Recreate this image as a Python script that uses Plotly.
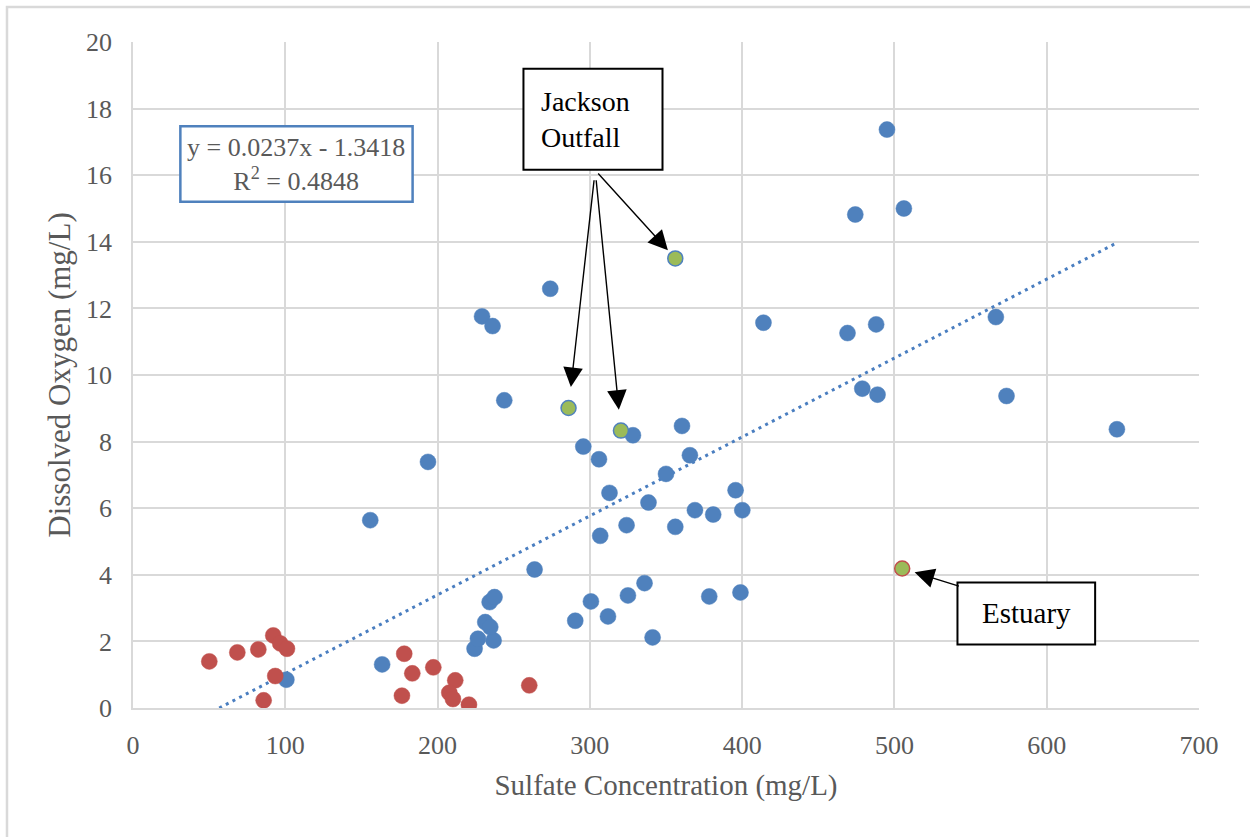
import plotly.graph_objects as go

# Sulfate (mg/L) vs dissolved oxygen (mg/L)
blue_sulfate = [100.7, 163.6, 155.8, 193.7, 224.3, 226.5, 236.8, 231.3, 234.6, 234.2,
                237.4, 263.7, 229.2, 236.1, 274.0, 243.8, 295.7, 306.0, 328.3, 360.5,
                365.7, 350.0, 312.9, 338.5, 395.7, 369.0, 381.0, 400.1, 324.1, 356.1,
                306.8, 335.9, 325.0, 300.7, 378.4, 398.9, 290.4, 311.9, 341.2, 414.0,
                495.1, 474.3, 506.2, 469.2, 488.0, 566.6, 478.9, 488.9, 573.6, 646.1]
blue_do = [0.85, 1.31, 5.64, 7.39, 1.78, 2.08, 2.03, 2.58, 2.43, 3.18,
           3.33, 4.16, 11.76, 11.47, 12.59, 9.24, 7.85, 7.47, 8.19, 8.47,
           7.59, 7.03, 6.46, 6.17, 6.54, 5.94, 5.81, 5.94, 5.49, 5.44,
           5.17, 3.75, 3.38, 3.20, 3.35, 3.47, 2.62, 2.75, 2.12, 11.57,
           17.37, 14.82, 15.00, 11.26, 11.52, 11.74, 9.59, 9.41, 9.37, 8.37]

red_sulfate = [50.1, 68.5, 82.3, 92.1, 96.7, 101.1, 93.4, 85.8, 178.1, 183.4,
               176.6, 197.2, 211.6, 207.7, 210.1, 220.6, 260.2]
red_do = [1.40, 1.67, 1.76, 2.18, 1.94, 1.78, 0.96, 0.23, 1.63, 1.04,
          0.37, 1.22, 0.83, 0.46, 0.27, 0.10, 0.68]

jackson_sulfate = [286.0, 320.4, 356.1]
jackson_do = [9.01, 8.33, 13.50]

estuary_sulfate = [505.1]
estuary_do = [4.19]

# Linear trendline
slope = 0.0237
intercept = -1.3418
r_squared = 0.4848

x_ticks = [0, 100, 200, 300, 400, 500, 600, 700]
y_ticks = [0, 2, 4, 6, 8, 10, 12, 14, 16, 18, 20]

BLUE = "#4F81BD"
RED = "#C0504D"
GREEN = "#9BBB59"
GRAY_TEXT = "#595959"
GRID = "#D9D9D9"
SERIF = "Liberation Serif"

all_x = blue_sulfate + red_sulfate + jackson_sulfate + estuary_sulfate
trend_x0 = max(min(all_x), -intercept / slope)
trend_x1 = max(all_x)
trend_x = [trend_x0, trend_x1]
trend_y = [slope * v + intercept for v in trend_x]

fig = go.Figure()

fig.add_trace(go.Scatter(
    x=trend_x, y=trend_y, mode="lines",
    line=dict(color="#4A7EC0", width=3, dash="3px,4.5px"),
    hoverinfo="skip", showlegend=False))

fig.add_trace(go.Scatter(
    x=blue_sulfate, y=blue_do, mode="markers",
    marker=dict(color=BLUE, size=16, line=dict(color=BLUE, width=0.5)),
    showlegend=False))

fig.add_trace(go.Scatter(
    x=red_sulfate, y=red_do, mode="markers",
    marker=dict(color=RED, size=16, line=dict(color=RED, width=0.5)),
    showlegend=False))

fig.add_trace(go.Scatter(
    x=jackson_sulfate, y=jackson_do, mode="markers",
    marker=dict(color=GREEN, size=15, line=dict(color=BLUE, width=1.5)),
    showlegend=False))

fig.add_trace(go.Scatter(
    x=estuary_sulfate, y=estuary_do, mode="markers",
    marker=dict(color=GREEN, size=15, line=dict(color=RED, width=1.5)),
    showlegend=False))

shapes = [
    # outer chart frame (top and left edges visible)
    dict(type="rect", xref="paper", yref="paper",
         x0=-0.1182, x1=1.1, y0=-0.3, y1=1.0526,
         line=dict(color=GRID, width=2.5), fillcolor="rgba(0,0,0,0)", layer="below"),
    # equation box
    dict(type="rect", xref="x", yref="y", x0=31.1, x1=183.6, y0=15.2, y1=17.47,
         line=dict(color=BLUE, width=2.5), fillcolor="white"),
    # Jackson Outfall box
    dict(type="rect", xref="x", yref="y", x0=256.4, x1=347.7, y0=16.16, y1=19.2,
         line=dict(color="black", width=2), fillcolor="white"),
    # Estuary box
    dict(type="rect", xref="x", yref="y", x0=541.4, x1=631.8, y0=1.91, y1=3.77,
         line=dict(color="black", width=2), fillcolor="white"),
]

annotations = [
    dict(x=107.3, y=16.33, xref="x", yref="y", showarrow=False,
         text=f"y = {slope}x - {abs(intercept)}<br>R<sup>2</sup> = {r_squared}",
         font=dict(family=SERIF, size=26, color=GRAY_TEXT), align="center"),
    dict(x=266.7, y=17.68, xref="x", yref="y", showarrow=False, xanchor="left",
         text="Jackson<br>Outfall", align="left",
         font=dict(family=SERIF, size=28, color="black")),
    dict(x=586.6, y=2.84, xref="x", yref="y", showarrow=False,
         text="Estuary", font=dict(family=SERIF, size=29, color="black")),
]

# arrows from the Jackson Outfall box to its three sampling points
for xs, ys, so in zip(jackson_sulfate, jackson_do, [21, 21, 11]):
    annotations.append(dict(
        x=xs, y=ys, xref="x", yref="y", ax=303.5, ay=16.15, axref="x", ayref="y",
        showarrow=True, arrowhead=2, arrowsize=2.8, arrowwidth=1.4,
        arrowcolor="black", standoff=so, text=" "))

annotations.append(dict(
    x=estuary_sulfate[0], y=estuary_do[0], xref="x", yref="y",
    ax=544.3, ay=3.63, axref="x", ayref="y",
    showarrow=True, arrowhead=2, arrowsize=2.8, arrowwidth=1.4,
    arrowcolor="black", standoff=13, text=" "))

fig.update_layout(
    width=1250, height=837,
    margin=dict(l=133, r=51, t=42, b=129),
    paper_bgcolor="white", plot_bgcolor="white",
    shapes=shapes, annotations=annotations,
    showlegend=False,
    xaxis=dict(
        range=[0, 700], tickvals=x_ticks, ticktext=[str(v) for v in x_ticks],
        showgrid=True, gridcolor=GRID, gridwidth=1.5,
        zeroline=False, showline=True, linecolor=GRID, linewidth=1.5, mirror=False,
        ticks="", ticklabelstandoff=13,
        tickfont=dict(family=SERIF, size=26, color=GRAY_TEXT),
        title=dict(text="Sulfate Concentration (mg/L)", standoff=16,
                   font=dict(family=SERIF, size=29, color=GRAY_TEXT)),
    ),
    yaxis=dict(
        range=[0, 20], tickvals=y_ticks, ticktext=[str(v) for v in y_ticks],
        showgrid=True, gridcolor=GRID, gridwidth=1.5,
        zeroline=False, showline=True, linecolor=GRID, linewidth=1.5,
        ticks="", ticklabelstandoff=14,
        tickfont=dict(family=SERIF, size=26, color=GRAY_TEXT),
        title=dict(text="Dissolved Oxygen (mg/L)", standoff=6,
                   font=dict(family=SERIF, size=31, color=GRAY_TEXT)),
    ),
)

fig.write_html("out.html")
